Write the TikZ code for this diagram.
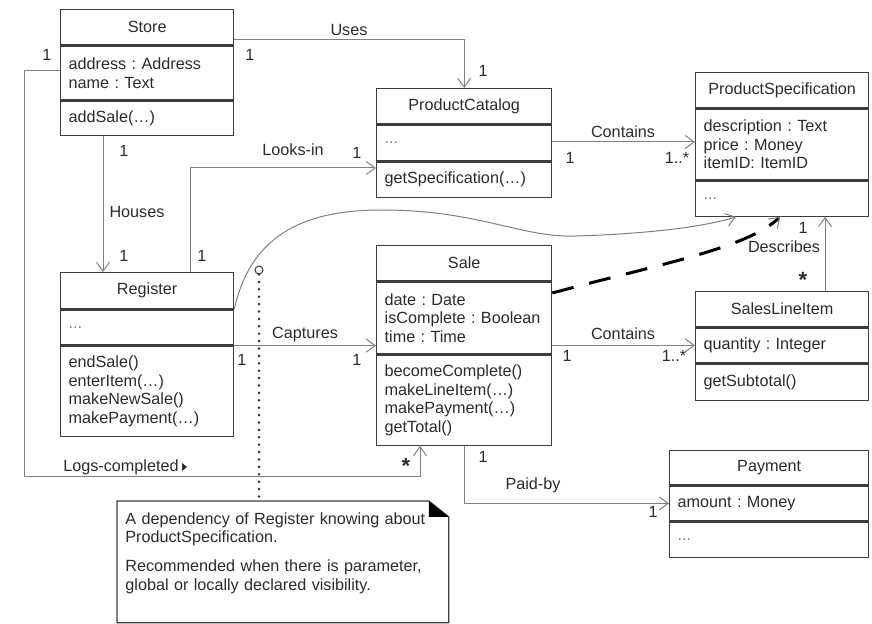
\documentclass[tikz,border=0pt]{standalone}
\usepackage{fontspec}
\setmainfont{Liberation Sans}
\usetikzlibrary{arrows.meta,positioning}
\definecolor{Ink}{HTML}{2B2B2B}
\definecolor{Frame}{HTML}{3C3C3C}
\definecolor{Wire}{HTML}{808080}

\tikzset{
 clshead/.style={draw=Frame,line width=0.65pt,anchor=north west,inner sep=0pt,text=Ink},
 clspart/.style={draw=Frame,line width=0.65pt,anchor=north west,inner xsep=4pt,inner ysep=0pt,align=left,text=Ink},
 assoc/.style={draw=Wire,line width=0.5pt,->},
 depline/.style={draw=black,line width=1.5pt,dash pattern=on 11pt off 8pt,
   -{Straight Barb[length=4.5pt,width=6.5pt,line width=0.5pt,color=Wire]}},
 dotline/.style={draw=Ink,line width=1.4pt,dash pattern=on 0pt off 3.7pt,line cap=round},
 ring/.style={circle,draw=Frame,line width=0.5pt,inner sep=0pt,minimum size=4pt,fill=white},
 lbl/.style={inner sep=0pt,text=Ink},
}

% name, corner, width, title, height, attributes, height, operations, height
\newcommand{\umlclass}[9]{%
 \node[clshead,minimum width=#3,minimum height=#5] (#1) at (#2) {#4};
 \node[clspart,text width=#3-8pt,minimum height=#7] (#1-a) at (#1.south west) {#6};
 \node[clspart,text width=#3-8pt,minimum height=#9] (#1-o) at (#1-a.south west) {#8};
}
\newcommand{\emptypart}{\textcolor{Wire}{...}}

\begin{document}
\frenchspacing
\begin{tikzpicture}[x=0.5pt,y=-0.5pt,font=\fontsize{8.1}{9.3}\selectfont,
 >={Straight Barb[length=4.5pt,width=6.5pt]}]
\useasboundingbox (0,0) rectangle (872,624);

% classes
\umlclass{store}{60,9}{86.5pt}{Store}{17.5pt}{address : Address\\name : Text}{27pt}{addSale(…)}{17pt}
\umlclass{catalog}{376,88}{87.5pt}{ProductCatalog}{17.5pt}{\emptypart}{18pt}{getSpecification(…)}{17.5pt}
\umlclass{spec}{695,72}{86.5pt}{ProductSpecification}{17.5pt}{description : Text\\price : Money\\itemID: ItemID}{35.5pt}{\emptypart}{17.5pt}
\umlclass{register}{60,272}{86.5pt}{Register}{18pt}{\emptypart}{17.5pt}{endSale()\\enterItem(…)\\makeNewSale()\\makePayment(…)}{45pt}
\umlclass{sale}{376,245}{87.5pt}{Sale}{17.5pt}{date : Date\\isComplete : Boolean\\time : Time}{36pt}{becomeComplete()\\makeLineItem(…)\\makePayment(…)\\getTotal()}{45pt}
\umlclass{sli}{695,291}{86.5pt}{SalesLineItem}{17.5pt}{quantity : Integer}{17.5pt}{getSubtotal()}{18pt}
\umlclass{payment}{669,450}{99.5pt}{Payment}{17pt}{amount : Money}{17.5pt}{\emptypart}{17.5pt}

% associations
\draw[assoc] (store.east |- 0,40) -| (catalog.north);
\draw[assoc] (store-o.south -| 103,0) -- (register.north -| 103,0);
\draw[assoc] (register.north -| 190,0) |- (catalog-o.west |- 0,168);
\draw[assoc] (store-a.west |- 0,71) -| (24,477) -| (sale-o.south -| 420,0);
\draw[assoc] (register-o.north east) -- (sale-a.west |- register-o.north east);
\draw[assoc] (catalog-a.east |- 0,142) -- (spec-a.west |- 0,142);
\draw[assoc] (sale-a.east |- sli-a.west) -- (sli-a.west);
\draw[assoc] (sli.north -| 825,0) -- (spec-o.south -| 825,0);
\draw[assoc] (sale-o.south) |- (payment-a.west);
\draw[assoc] (register-a.north east) .. controls (250,238) and (300,210) .. (381,210)
 .. controls (480,210) and (520,238) .. (577,236)
 .. controls (640,234) and (700,228) .. (spec-o.south -| 736,0);
\draw[depline] (sale-a.east |- 0,293) .. controls (660,264) and (748,248) .. (spec-o.south -| 780,0);

% association names
\node[lbl] (uses) at (349,30) {Uses};
\node[lbl] (houses) at (137,212) {Houses};
\node[lbl] (looksin) at (293,150) {Looks-in};
\node[lbl] (contains1) at (623,132) {Contains};
\node[lbl] (contains2) at (623,334) {Contains};
\node[lbl] (captures) at (305,335) {Captures};
\node[lbl] (describes) at (784,247) {Describes};
\node[lbl] (paidby) at (533,485) {Paid-by};
\node[lbl] (logs) at (121,467) {Logs-completed};
\fill[Ink] ([xshift=1.5pt,yshift=2pt]logs.east) -- ++(2.5pt,-2pt) -- ++(-2.5pt,-2pt) -- cycle;

% multiplicities
\foreach \x/\y/\t [count=\i] in {250/55/1,483/71/1,47/55/1,124/151/1,124/256/1,357/153/1,
 202/256/1,570/158/1,677/158/1..*,803/228/1,242/360/1,357/360/1,567/356/1,674/356/1..*,
 483/457/1,653/512/1}
 \node[lbl] (mult\i) at (\x,\y) {\t};
\node[lbl,font=\fontsize{11}{11}\selectfont\bfseries] (star1) at (406,466) {*};
\node[lbl,font=\fontsize{11}{11}\selectfont\bfseries] (star2) at (803,280) {*};

% note
\node[minimum width=165.5pt,minimum height=60.5pt,anchor=north west,inner sep=0pt] (note) at (117,501) {};
\draw[draw=Frame,line width=0.65pt] (note.north west) -- ([xshift=-10pt]note.north east)
 -- ([yshift=-8pt]note.north east) -- (note.south east) -- (note.south west) -- cycle;
\fill[black] ([xshift=-10pt]note.north east) -- ([yshift=-8pt]note.north east)
 -- ([xshift=-10pt,yshift=-8pt]note.north east) -- cycle;
\node[lbl,anchor=base west,text width=160pt,align=left] (notetext) at (125,524)
 {A dependency of Register knowing about\\ProductSpecification.\\[5.3pt]
  Recommended when there is parameter,\\global or locally declared visibility.};
\node[ring] (knot) at (259,270) {};
\draw[dotline] (knot.south) -- (knot.south |- note.north);
\end{tikzpicture}
\end{document}
